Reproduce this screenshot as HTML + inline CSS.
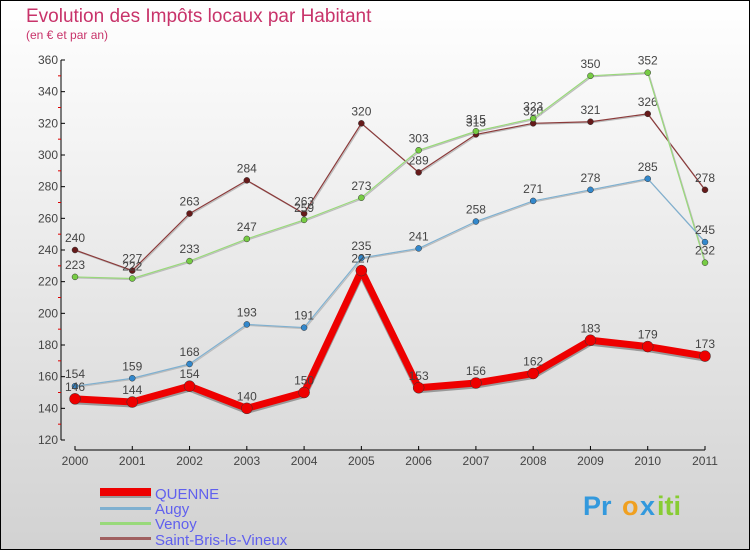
<!DOCTYPE html>
<html><head><meta charset="utf-8"><style>
body{margin:0}
svg{display:block;font-family:"Liberation Sans",sans-serif}
</style></head><body>
<svg id="c" width="750" height="550" xmlns="http://www.w3.org/2000/svg">
<defs><linearGradient id="bg" x1="0" y1="0" x2="0" y2="1"><stop offset="0" stop-color="#ffffff"/><stop offset="1" stop-color="#d2d2d2"/></linearGradient></defs>
<rect x="0.5" y="0.5" width="749" height="549" fill="url(#bg)" stroke="#000"/>
<text x="26" y="22" font-size="19" fill="#c8336a">Evolution des Impôts locaux par Habitant</text>
<text x="26" y="39" font-size="12" fill="#c8336a">(en € et par an)</text>
<g id="axes"></g><g id="series"></g>
<g>
<rect x="100" y="490" width="51" height="8" fill="#999"/><rect x="100" y="488" width="51" height="8" fill="#ee0000"/>
<text x="155" y="499" font-size="15" fill="#6060ee">QUENNE</text>
<rect x="100" y="507" width="51" height="3" fill="#7fb0d0"/>
<text x="155" y="514" font-size="15" fill="#6060ee">Augy</text>
<rect x="100" y="522" width="51" height="3" fill="#99d97a"/>
<text x="155" y="529" font-size="15" fill="#6060ee">Venoy</text>
<rect x="100" y="537" width="51" height="3" fill="#a06060"/>
<text x="155" y="545" font-size="15" fill="#6060ee">Saint-Bris-le-Vineux</text>
</g>
<g font-size="27" font-weight="bold">
<text x="583" y="515" fill="#3399dd">Pr</text><text x="622" y="515" fill="#f0a020">o</text><text x="640" y="515" fill="#3399dd">x</text><text x="657" y="515" fill="#88cc33">iti</text>
</g>
</svg>
<script>
const years=["2000","2001","2002","2003","2004","2005","2006","2007","2008","2009","2010","2011"];
const yTicks=[120,140,160,180,200,220,240,260,280,300,320,340,360];
const quenne=[146,144,154,140,150,227,153,156,162,183,179,173];
const augy=[154,159,168,193,191,235,241,258,271,278,285,245];
const venoy=[223,222,233,247,259,273,303,315,323,350,352,232];
const saintBris=[240,227,263,284,263,320,289,313,320,321,326,278];
const NS="http://www.w3.org/2000/svg";
const xs=i=>75+i*(630/(years.length-1));
const ys=v=>440-(v-120)*(380/240);
function mk(t,a,p){const e=document.createElementNS(NS,t);for(const k in a)e.setAttribute(k,a[k]);p.appendChild(e);return e;}
const ax=document.getElementById('axes');
let e=mk('line',{x1:61,y1:60,x2:61,y2:440,stroke:'#000'},ax);


e=mk('line',{x1:75,y1:450,x2:705,y2:450,stroke:'#000'},ax);


yTicks.forEach((v,i)=>{const y=ys(v);
mk('line',{x1:61,y1:y,x2:65,y2:y,stroke:'#000'},ax);
if(i<yTicks.length-1)mk('line',{x1:58,y1:ys(v+10),x2:61,y2:ys(v+10),stroke:'#d00'},ax);
const t=mk('text',{x:58,y:y+4,'font-size':12,fill:'#444','text-anchor':'end'},ax);t.textContent=v;

});
years.forEach((yr,i)=>{const x=xs(i);
mk('line',{x1:x,y1:446,x2:x,y2:450,stroke:'#000'},ax);
const t=mk('text',{x:x,y:465,'font-size':12,fill:'#444','text-anchor':'middle'},ax);t.textContent=yr;

});
const sg=document.getElementById('series');
function draw(d,name,col,w,dot,dotCol){
const g=mk('g',{},sg);


const pts=d.map((v,i)=>xs(i)+','+ys(v)).join(' ');
if(w>4)mk('polyline',{points:d.map((v,i)=>xs(i)+','+(ys(v)+2)).join(' '),fill:'none',stroke:'#999',"stroke-width":w,"stroke-linejoin":'round'},g);
else mk('polyline',{points:d.map((v,i)=>(xs(i)+1)+','+(ys(v)+1)).join(' '),fill:'none',stroke:'#bbb',"stroke-width":w},g);
mk('polyline',{points:pts,fill:'none',stroke:col,"stroke-width":w,"stroke-linejoin":'round'},g);
d.forEach((v,i)=>{const c=mk('circle',{cx:xs(i),cy:ys(v),r:dot,fill:dotCol,stroke:'#333',"stroke-width":0.5},g);


const t=mk('text',{x:xs(i),y:ys(v)-8,'font-size':12,fill:'#444','text-anchor':'middle'},g);t.textContent=v;

});
}
draw(saintBris,'saint-bris','#8b3a3a',1.2,3,'#661a1a');
draw(venoy,'venoy','#99d97a',1.2,3,'#77cc44');
draw(augy,'augy','#7fb0d0',1.2,3,'#3388cc');
draw(quenne,'quenne','#ee0000',7,5.5,'#ee0000');
</script>
</body></html>
